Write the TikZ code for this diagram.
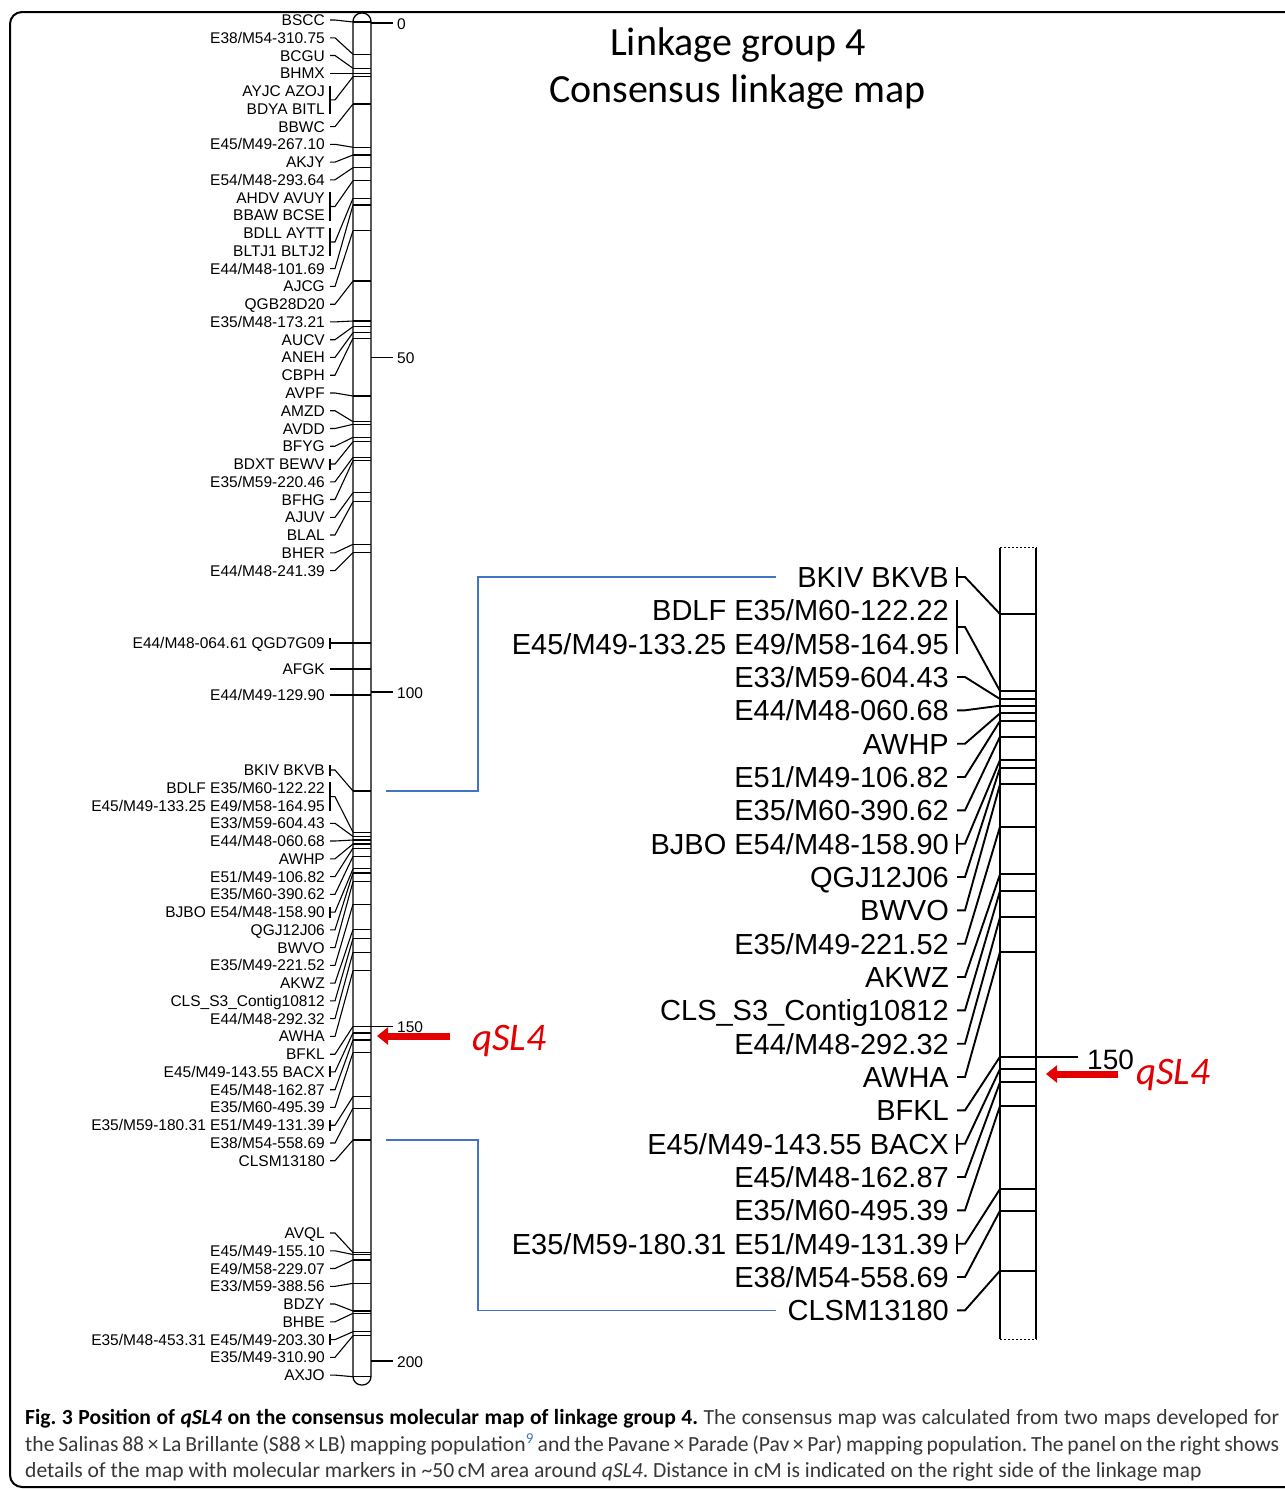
\documentclass[tikz,border=0pt]{standalone}
\usepackage{fontspec}
\setmainfont{Liberation Sans}
\newfontfamily\carl{Carlito}
\usetikzlibrary{calc,arrows.meta}
\definecolor{qred}{RGB}{228,0,0}
\definecolor{lblue}{RGB}{68,114,196}
\definecolor{captxt}{RGB}{55,55,55}
\frenchspacing
\newcommand\lfont{\fontsize{15.5}{18}\selectfont}
\newcommand\rfont{\fontsize{29}{33}\selectfont}
\tikzset{
  llab/.style={anchor=east,inner sep=0pt,font=\lfont,text height=11.1pt,text depth=0pt},
  rlab/.style={anchor=east,inner sep=0pt,font=\rfont,text height=20.8pt,text depth=0pt},
  lconn/.style={line width=1.1pt},
  rconn/.style={line width=1.9pt},
  lmark/.style={line width=1.2pt},
  rmark/.style={line width=1.9pt},
  ticklab/.style={anchor=west,inner sep=0pt,font=\lfont},
  bluelink/.style={draw=lblue,line width=1.4pt},
  qarrow/.style={draw=qred,line width=7pt,-{Triangle[length=11pt,width=17pt]}},
  qtext/.style={text=qred,font=\carl\itshape\fontsize{39}{44}\selectfont,inner sep=0pt,anchor=base west},
  titlef/.style={font=\carl\fontsize{40}{48}\selectfont,inner sep=0pt,anchor=base},
  capline/.style={anchor=base west,inner sep=0pt,font=\carl\fontsize{21.6}{27}\selectfont\frenchspacing},
}
% left panel helpers
\newcommand\MkLS[4]{%
  \coordinate (m#1) at (353,#4);
  \draw[lmark] (m#1) -- ++(18,0);
  \node[llab] (#1) at (325,#2) {#3};
  \draw[lconn] ([xshift=5pt]#1.east) -- ([xshift=10pt]#1.east) -- (m#1);}
\newcommand\MkLT[4]{%
  \coordinate (m#1) at (353,#4);
  \draw[lmark] (m#1) -- ++(18,0);
  \node[llab] (#1) at (325,#2) {#3};
  \draw[lconn] ([xshift=5pt,yshift=5.5pt]#1.east) -- ([xshift=5pt,yshift=-5.5pt]#1.east);
  \draw[lconn] ([xshift=5pt]#1.east) -- ([xshift=10pt]#1.east) -- (m#1);}
\newcommand\MkLB[6]{%
  \coordinate (m#1) at (353,#6);
  \draw[lmark] (m#1) -- ++(18,0);
  \node[llab] (#1a) at (325,#2) {#4};
  \node[llab] (#1b) at (325,#3) {#5};
  \draw[lconn] ([xshift=5pt,yshift=5.5pt]#1a.east) -- ([xshift=5pt,yshift=-5.5pt]#1b.east);
  \draw[lconn] ($([xshift=5pt]#1a.east)!.5!([xshift=5pt]#1b.east)$) -- ++(5,0) -- (m#1);}
% right panel helpers
\newcommand\MkRS[4]{%
  \coordinate (m#1) at (1000,#4);
  \draw[rmark] (m#1) -- ++(36,0);
  \node[rlab] (#1) at (949,#2) {#3};
  \draw[rconn] ([xshift=8pt]#1.east) -- ([xshift=16pt]#1.east) -- (m#1);}
\newcommand\MkRT[4]{%
  \coordinate (m#1) at (1000,#4);
  \draw[rmark] (m#1) -- ++(36,0);
  \node[rlab] (#1) at (949,#2) {#3};
  \draw[rconn] ([xshift=8pt,yshift=10pt]#1.east) -- ([xshift=8pt,yshift=-10pt]#1.east);
  \draw[rconn] ([xshift=8pt]#1.east) -- ([xshift=16pt]#1.east) -- (m#1);}
\newcommand\MkRB[6]{%
  \coordinate (m#1) at (1000,#6);
  \draw[rmark] (m#1) -- ++(36,0);
  \node[rlab] (#1a) at (949,#2) {#4};
  \node[rlab] (#1b) at (949,#3) {#5};
  \draw[rconn] ([xshift=8pt,yshift=10pt]#1a.east) -- ([xshift=8pt,yshift=-10pt]#1b.east);
  \draw[rconn] ($([xshift=8pt]#1a.east)!.5!([xshift=8pt]#1b.east)$) -- ++(8,0) -- (m#1);}

\begin{document}
\begin{tikzpicture}[x=1pt,y=-1pt]
\useasboundingbox (0,0) rectangle (1285,1489);
\begin{scope}
  \clip (0,0) rectangle (1285,1489);
  \draw[line width=2pt,rounded corners=12pt] (10,12) rectangle (1320,1487);
\end{scope}

% title
\node[titlef] (t1) at (738,55) {Linkage group 4};
\node[titlef] (t2) at (737.5,102) {Consensus linkage map};

% left chromosome
\node[draw,line width=1.3pt,rounded corners=8.5pt,minimum width=18pt,minimum height=1372pt,inner sep=0pt] (chrL) at (362,699) {};
% scale ticks
\foreach \v/\yy in {0/23,50/357.5,100/692,150/1026.5,200/1361}{
  \coordinate (tk\v) at (371,\yy);
  \draw[lconn] (tk\v) -- ++(22,0);
  \node[ticklab] (tl\v) at (397,\yy+0.8) {\v};
}

\MkLS{L1}{20.0}{BSCC}{22}
\MkLS{L2}{37.8}{E38/M54-310.75}{54.3}
\MkLS{L3}{55.5}{BCGU}{68.3}
\MkLS{L4}{73.3}{BHMX}{73.3}
\MkLB{L5}{91.0}{108.8}{AYJC AZOJ}{BDYA BITL}{76.7}
\MkLS{L6}{126.6}{BBWC}{104}
\MkLS{L7}{144.3}{E45/M49-267.10}{147.3}
\MkLS{L8}{162.1}{AKJY}{155}
\MkLS{L9}{179.8}{E54/M48-293.64}{167.7}
\MkLB{L10}{197.6}{215.4}{AHDV AVUY}{BBAW BCSE}{180.7}
\MkLB{L11}{233.1}{250.9}{BDLL AYTT}{BLTJ1 BLTJ2}{198.3}
\MkLS{L12}{268.6}{E44/M48-101.69}{205}
\MkLS{L13}{286.4}{AJCG}{230.7}
\MkLS{L14}{304.2}{QGB28D20}{281}
\MkLS{L15}{321.9}{E35/M48-173.21}{321}
\MkLS{L16}{339.7}{AUCV}{326.7}
\MkLS{L17}{357.4}{ANEH}{332.7}
\MkLS{L18}{375.2}{CBPH}{338.3}
\MkLS{L19}{393.0}{AVPF}{396}
\MkLS{L20}{410.7}{AMZD}{421.7}
\MkLS{L21}{428.5}{AVDD}{424.3}
\MkLS{L22}{446.2}{BFYG}{437.3}
\MkLT{L23}{464.0}{BDXT BEWV}{441.7}
\MkLS{L24}{481.8}{E35/M59-220.46}{457.3}
\MkLS{L25}{499.5}{BFHG}{460.7}
\MkLS{L26}{517.3}{AJUV}{492.7}
\MkLS{L27}{535.0}{BLAL}{501.7}
\MkLS{L28}{552.8}{BHER}{544.3}
\MkLS{L29}{570.6}{E44/M48-241.39}{552.7}
\MkLT{L30}{643}{E44/M48-064.61 QGD7G09}{643}
\MkLS{L31}{669}{AFGK}{669}
\MkLS{L32}{695}{E44/M49-129.90}{695}
\MkLT{L33}{770.0}{BKIV BKVB}{791.0}
\MkLB{L34}{787.8}{805.5}{BDLF E35/M60-122.22}{E45/M49-133.25 E49/M58-164.95}{832.2}
\MkLS{L35}{823.3}{E33/M59-604.43}{836.4}
\MkLS{L36}{841.0}{E44/M48-060.68}{840.0}
\MkLS{L37}{858.8}{AWHP}{844.0}
\MkLS{L38}{876.6}{E51/M49-106.82}{848.1}
\MkLS{L39}{894.3}{E35/M60-390.62}{856.4}
\MkLT{L40}{912.1}{BJBO E54/M48-158.90}{868.8}
\MkLS{L41}{929.8}{QGJ12J06}{872.9}
\MkLS{L42}{947.6}{BWVO}{881.7}
\MkLS{L43}{965.4}{E35/M49-221.52}{904.2}
\MkLS{L44}{983.1}{AKWZ}{929.5}
\MkLS{L45}{1000.9}{CLS\_S3\_Contig10812}{938.4}
\MkLS{L46}{1018.6}{E44/M48-292.32}{952.3}
\MkLS{L47}{1036.4}{AWHA}{970.8}
\MkLS{L48}{1054.2}{BFKL}{1026.4}
\MkLT{L49}{1071.9}{E45/M49-143.55 BACX}{1032.9}
\MkLS{L50}{1089.7}{E45/M48-162.87}{1040.0}
\MkLS{L51}{1107.4}{E35/M60-495.39}{1052.5}
\MkLT{L52}{1125.2}{E35/M59-180.31 E51/M49-131.39}{1096.6}
\MkLS{L53}{1143.0}{E38/M54-558.69}{1108.1}
\MkLS{L54}{1160.7}{CLSM13180}{1140.0}
\MkLS{L55}{1233}{AVQL}{1252.5}
\MkLS{L56}{1250.8}{E45/M49-155.10}{1254.5}
\MkLS{L57}{1268.5}{E49/M58-229.07}{1260}
\MkLS{L58}{1286.3}{E33/M59-388.56}{1283.3}
\MkLS{L59}{1304}{BDZY}{1311}
\MkLS{L60}{1321.8}{BHBE}{1313.3}
\MkLT{L61}{1339.6}{E35/M48-453.31 E45/M49-203.30}{1331.7}
\MkLS{L62}{1357.3}{E35/M49-310.90}{1335.7}
\MkLS{L63}{1375.1}{AXJO}{1376.7}

% right chromosome (detail)
\node[minimum width=36pt,minimum height=791pt,inner sep=0pt] (chrR) at (1018,943.5) {};
\draw[rconn] (chrR.north west) -- (chrR.south west);
\draw[rconn] (chrR.north east) -- (chrR.south east);
\draw[dashed,line width=0.7pt,dash pattern=on 2.5pt off 1.5pt] (chrR.north west) -- (chrR.north east);
\draw[dashed,line width=0.7pt,dash pattern=on 2.5pt off 1.5pt] (chrR.south west) -- (chrR.south east);

\MkRT{R1}{577}{BKIV BKVB}{614}
\MkRB{R2}{610.3}{643.7}{BDLF E35/M60-122.22}{E45/M49-133.25 E49/M58-164.95}{691}
\MkRS{R3}{677}{E33/M59-604.43}{699}
\MkRS{R4}{710.3}{E44/M48-060.68}{705.7}
\MkRS{R5}{743.7}{AWHP}{713.3}
\MkRS{R6}{777}{E51/M49-106.82}{721}
\MkRS{R7}{810.3}{E35/M60-390.62}{736.7}
\MkRT{R8}{843.7}{BJBO E54/M48-158.90}{760}
\MkRS{R9}{877}{QGJ12J06}{767.7}
\MkRS{R10}{910.3}{BWVO}{784.3}
\MkRS{R11}{943.7}{E35/M49-221.52}{826.7}
\MkRS{R12}{977}{AKWZ}{874.3}
\MkRS{R13}{1010.3}{CLS\_S3\_Contig10812}{891}
\MkRS{R14}{1043.7}{E44/M48-292.32}{917.3}
\MkRS{R15}{1077}{AWHA}{952}
\MkRS{R16}{1110.3}{BFKL}{1056.7}
\MkRT{R17}{1143.7}{E45/M49-143.55 BACX}{1069}
\MkRS{R18}{1177}{E45/M48-162.87}{1082.3}
\MkRS{R19}{1210.3}{E35/M60-495.39}{1106}
\MkRT{R20}{1243.7}{E35/M59-180.31 E51/M49-131.39}{1189}
\MkRS{R21}{1277}{E38/M54-558.69}{1210.7}
\MkRS{R22}{1310.3}{CLSM13180}{1270.7}

% right scale tick
\coordinate (rt150) at (1036,1057);
\draw[lconn] (rt150) -- ++(42,0);
\node[anchor=west,inner sep=0pt,font=\fontsize{28}{32}\selectfont] (rl150) at (1087,1060) {150};

% blue links between overview and detail
\coordinate (bx) at (776,0);
\draw[bluelink] ([xshift=33pt]mL33) -- ++(92,0) |- (bx |- R1.east);
\draw[bluelink] ([xshift=33pt]mL54) -- ++(92,0) |- (bx |- R22.east);

% qSL4 arrows and labels
\coordinate (qa1) at (450,1036);
\coordinate (qb1) at (377,1036);
\draw[qarrow] (qa1) -- (qb1);
\node[qtext] (q1) at (472,1050) {qSL4};
\coordinate (qa2) at (1118,1074);
\coordinate (qb2) at (1046,1074);
\draw[qarrow] (qa2) -- (qb2);
\node[qtext] (q2) at (1136,1084) {qSL4};

% caption
\node[capline] (c1) at (25,1424) {\makebox[1254pt][s]{\bfseries Fig. 3 Position of \textit{qSL4} on the consensus molecular map of linkage group 4. \mdseries\color{captxt}The consensus map was calculated from two maps developed for}};
\node[capline,text=captxt] (c2) at (25,1451) {\makebox[1254pt][s]{the Salinas 88\,×\,La Brillante (S88\,×\,LB) mapping population\textsuperscript{\color{lblue}9} and the Pavane\,×\,Parade (Pav\,×\,Par) mapping population. The panel on the right shows}};
\node[capline,text=captxt] (c3) at (25,1477) {details of the map with molecular markers in \textasciitilde50\,cM area around \textit{qSL4}. Distance in cM is indicated on the right side of the linkage map};
\end{tikzpicture}
\end{document}
